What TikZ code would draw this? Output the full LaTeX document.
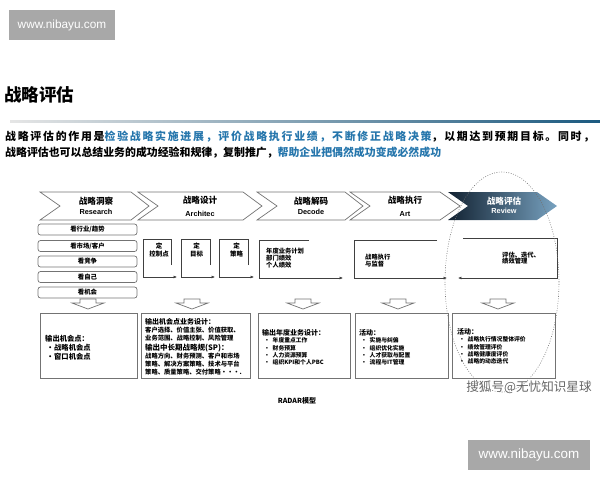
\documentclass[tikz,border=0pt]{standalone}
\usepackage{fontspec}
\setmainfont{Noto Sans CJK SC}
\newfontfamily\latinfont{Liberation Sans}
\usetikzlibrary{arrows.meta}

\definecolor{keyblue}{RGB}{38,118,172}
\definecolor{rulebl}{RGB}{28,90,128}
\definecolor{linegray}{RGB}{115,115,115}
\definecolor{markgray}{RGB}{168,168,168}
\definecolor{revdark}{RGB}{18,34,50}
\definecolor{revmid}{RGB}{34,66,90}
\definecolor{revlight}{RGB}{120,162,192}

\newcommand{\dotitem}[1]{\hspace*{2pt}\makebox[8.5pt][l]{\textbullet}#1}
\newcommand{\biglitem}[1]{\hspace*{1.5pt}\makebox[7.5pt][l]{\textbullet}#1}

\begin{document}
\begin{tikzpicture}[x=1pt, y=-1pt,
  every node/.style={inner sep=0pt},
  webmark/.style={fill=markgray, text=white, minimum height=30pt},
  chev/.style={draw=linegray, line width=0.7pt, fill=white},
  cn/.style={font=\bfseries\fontsize{8.6}{9}\selectfont},
  en/.style={font=\latinfont\bfseries\fontsize{7.3}{8}\selectfont},
  lbox/.style={draw=linegray, line width=0.7pt, rounded corners=2.5pt, minimum width=99pt, minimum height=11pt, font=\bfseries\fontsize{6.4}{7}\selectfont},
  flow/.style={draw=black!75, line width=0.6pt},
  tip/.style={-{Latex[length=3.4pt,width=3pt]}},
  midtext/.style={font=\bfseries\fontsize{6.3}{6.7}\selectfont, align=left, anchor=north west},
  outbox/.style={draw=linegray, line width=1pt, fill=white, minimum height=65pt},
  outtext/.style={align=left, anchor=north west},
  dnarrow/.pic={\draw[linegray, line width=0.7pt, fill=white] (-8,0) -- (8,0) -- (8,4) -- (16,4) -- (0,10) -- (-16,4) -- (-8,4) -- cycle;}
  ]
  \useasboundingbox (0,0) rectangle (600,480);

  % watermarks
  \node[webmark, minimum width=106pt, font=\latinfont\fontsize{11.8}{12}\selectfont] (wmtop) at (62,25) {www.nibayu.com};
  \node[webmark, minimum width=122pt, font=\latinfont\fontsize{13.4}{14}\selectfont] (wmbot) at (529,455) {www.nibayu.com};

  % heading
  \node[anchor=west, font=\bfseries\fontsize{17.5}{18}\selectfont] (title) at (4,95) {战略评估};
  \shade[left color=gray!20, middle color=rulebl!80, right color=rulebl] (10,120.6) rectangle (600,122.4);
  \node[anchor=west, font=\bfseries\fontsize{10.9}{12}\selectfont] (line1) at (5,137)
    {\addfontfeatures{LetterSpace=16}战略评估的作用是\textcolor{keyblue}{检验战略实施进展，评价战略执行业绩，不断修正战略决策}，以期达到预期目标。同时，};
  \node[anchor=west, font=\bfseries\fontsize{10.9}{12}\selectfont] (line2) at (5,153)
    {战略评估也可以总结业务的成功经验和规律，复制推广，\textcolor{keyblue}{帮助企业把偶然成功变成必然成功}};

  % chevrons
  \draw[chev] (40,192) -- (131,192) -- (149,206) -- (131,220) -- (40,220) -- (60,206) -- cycle;
  \draw[chev] (138,192) -- (243,192) -- (262,206) -- (243,220) -- (138,220) -- (158,206) -- cycle;
  \draw[chev] (257,192) -- (345,192) -- (363,206) -- (345,220) -- (257,220) -- (277,206) -- cycle;
  \draw[chev] (350,192) -- (440,192) -- (460,206) -- (440,220) -- (350,220) -- (370,206) -- cycle;
  \shade[left color=revdark, middle color=revmid, right color=revlight] (448,192) -- (537,192) -- (557,206) -- (537,220) -- (448,220) -- (468,206) -- cycle;

  \node[cn] (research) at (96,201) {战略洞察};
  \node[en] (researchen) at (96,212) {Research};
  \node[cn] (architec) at (200,200) {战略设计};
  \node[en] (architecen) at (200,214) {Architec};
  \node[cn] (decode) at (311,201) {战略解码};
  \node[en] (decodeen) at (311,212) {Decode};
  \node[cn] (art) at (405,200) {战略执行};
  \node[en] (arten) at (405,214) {Art};
  \node[cn, text=white] (review) at (504,201) {战略评估};
  \node[en, text=white] (reviewen) at (504,211) {Review};

  % research list
  \node[lbox] (look1) at (87.5,229.5) {看行业/趋势};
  \node[lbox] (look2) at (87.5,246) {看市场/客户};
  \node[lbox] (look3) at (87.5,261.5) {看竞争};
  \node[lbox] (look4) at (87.5,277) {看自己};
  \node[lbox] (look5) at (87.5,292.5) {看机会};

  % middle row
  \coordinate (pa0) at (171,265); \coordinate (pa1) at (143,239); \coordinate (pa2) at (177,277);
  \coordinate (pb0) at (210,265); \coordinate (pb1) at (181,239); \coordinate (pb2) at (215,277);
  \coordinate (pc0) at (248,265); \coordinate (pc1) at (219,239); \coordinate (pc2) at (254,277);
  \coordinate (pd0) at (309,240); \coordinate (pd1) at (259,240); \coordinate (pd2) at (343,278);
  \coordinate (pe0) at (437,240); \coordinate (pe1) at (354,240); \coordinate (pe2) at (447,278);
  \coordinate (pf0) at (463,238); \coordinate (pf1) at (557,278); \coordinate (pf2) at (458,278);
  \draw[flow, tip] (pa0) |- (pa1) |- (pa2);
  \draw[flow, tip] (pb0) |- (pb1) |- (pb2);
  \draw[flow, tip] (pc0) |- (pc1) |- (pc2);
  \draw[flow, tip] (pd0) -- (pd1) |- (pd2);
  \draw[flow, tip] (pe0) -- (pe1) |- (pe2);
  \draw[flow, tip] (pf0) -| (pf1) -- (pf2);

  \node[midtext, align=center, anchor=center, font=\bfseries\fontsize{6.5}{8}\selectfont] (setctrl) at (159,250) {定\\控制点};
  \node[midtext, align=center, anchor=center, font=\bfseries\fontsize{6.5}{8}\selectfont] (setgoal) at (196.5,250) {定\\目标};
  \node[midtext, align=center, anchor=center, font=\bfseries\fontsize{6.5}{8}\selectfont] (setplan) at (236.5,250) {定\\策略};
  \node[midtext] (yearplan) at (266,248.2) {年度业务计划\\部门绩效\\个人绩效};
  \node[midtext] (execute) at (365,253.9) {战略执行\\与监督};
  \node[midtext] (evaluate) at (502,251.5) {评估、迭代、\\绩效管理};

  % down arrows
  \pic (da1) at (88,299) {dnarrow};
  \pic (da2) at (192,299) {dnarrow};
  \pic (da3) at (303,299) {dnarrow};
  \pic (da4) at (398,299) {dnarrow};
  \pic (da5) at (498,299) {dnarrow};

  % output boxes
  \node[outbox, minimum width=97pt] (out1) at (88.5,345.5) {};
  \node[outbox, minimum width=109pt] (out2) at (195.5,345.5) {};
  \node[outbox, minimum width=92pt] (out3) at (304,345.5) {};
  \node[outbox, minimum width=93pt] (out4) at (401.5,345.5) {};
  \node[outbox, minimum width=103pt] (out5) at (503.5,345.5) {};

  \node[outtext, font=\bfseries\fontsize{7.3}{8.8}\selectfont] (outtext1) at (45,335)
    {输出机会点：\\\biglitem{战略机会点}\\\biglitem{窗口机会点}};
  \node[outtext, font=\bfseries\fontsize{6.3}{7.6}\selectfont] (outtext2) at (145,318.5)
    {{\fontsize{7}{7.6}\selectfont 输出机会点业务设计：}\\[0.4pt]
     客户选择、价值主张、价值获取、\\
     业务范围、战略控制、风险管理\\[3pt]
     {\fontsize{7.5}{7.6}\selectfont 输出中长期战略规(SP)：}\\[0.4pt]
     战略方向、财务预测、客户和市场\\
     策略、解决方案策略、技术与平台\\
     策略、质量策略、交付策略···.};
  \node[outtext, font=\bfseries\fontsize{5.8}{7.2}\selectfont] (outtext3) at (262,329)
    {{\fontsize{7}{7.2}\selectfont 输出年度业务设计：}\\[0.5pt]
     \dotitem{年度重点工作}\\\dotitem{财务预算}\\\dotitem{人力资源预算}\\\dotitem{组织KPI和个人PBC}};
  \node[outtext, font=\bfseries\fontsize{5.8}{7.2}\selectfont] (outtext4) at (359,329)
    {{\fontsize{7}{7.2}\selectfont 活动：}\\[0.5pt]
     \dotitem{实施与纠偏}\\\dotitem{组织优化实施}\\\dotitem{人才获取与配置}\\\dotitem{流程与IT管理}};
  \node[outtext, font=\bfseries\fontsize{5.8}{7.2}\selectfont] (outtext5) at (457,328)
    {{\fontsize{7}{7.2}\selectfont 活动：}\\[0.5pt]
     \dotitem{战略执行情况整体评价}\\\dotitem{绩效管理评价}\\\dotitem{战略健康度评价}\\\dotitem{战略的动态迭代}};

  % review focus
  \draw[black!55, line width=0.6pt, dash pattern=on 0.8pt off 1.6pt] (502,282) ellipse [x radius=57pt, y radius=110pt];

  \node[font=\bfseries\fontsize{7}{8}\selectfont] (radar) at (297,401) {RADAR模型};
  \node[text=black!60, font=\fontsize{12.6}{13}\selectfont] (sohu) at (529,387) {搜狐号@无忧知识星球};
\end{tikzpicture}
\end{document}
